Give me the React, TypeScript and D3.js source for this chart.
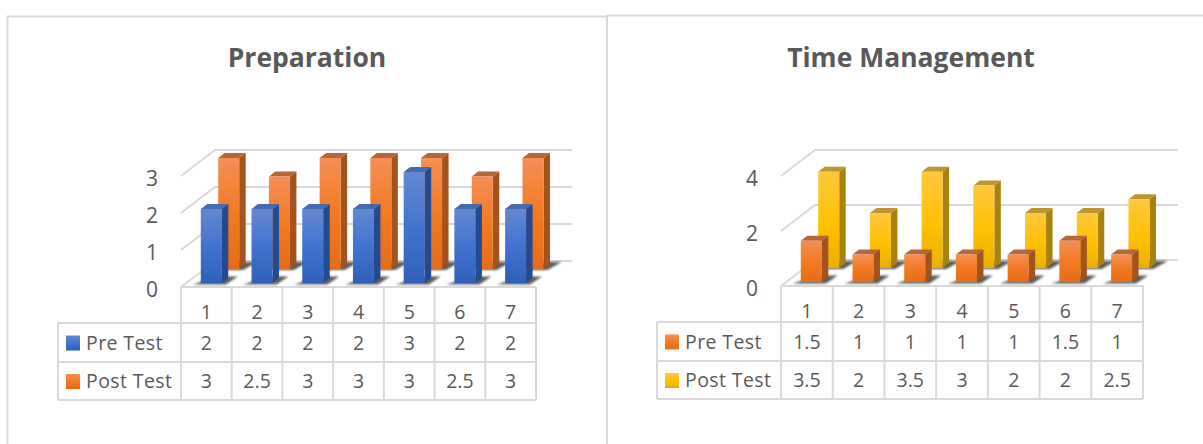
import * as d3 from 'd3';

const categories = ['1', '2', '3', '4', '5', '6', '7'];

const prepPre = [2, 2, 2, 2, 3, 2, 2];
const prepPost = [3, 2.5, 3, 3, 3, 2.5, 3];
const prepTicks = [0, 1, 2, 3];

const timePre = [1.5, 1, 1, 1, 1, 1.5, 1];
const timePost = [3.5, 2, 3.5, 3, 2, 2, 2.5];
const timeTicks = [0, 2, 4];

const seriesNames = ['Pre Test', 'Post Test'];

const blue = { top: '#466ab0', light: '#6488d2', mid: '#3f71cf', dark: '#2f60b8', side: '#244a8f' };
const orange = { top: '#b9653a', light: '#f58f54', mid: '#f2781f', dark: '#e66c1a', side: '#a3531c' };
const yellow = { top: '#bf9530', light: '#ffc83f', mid: '#ffc000', dark: '#e8af00', side: '#a8820f' };

const font = "'Open Sans', sans-serif";
const grid = '#d9d9d9';
const textColor = '#595959';

type Colors = typeof blue;

function Bar({ x, w, base, h, dx, dy, c, id }: { x: number; w: number; base: number; h: number; dx: number; dy: number; c: Colors; id: string }) {
  const top = base - h;
  return (
    <g>
      <path d={`M${x + w},${base} l${dx},${-dy} V${top - dy} L${x + w},${top} Z`} fill={c.side} />
      <path d={`M${x},${top} l${dx},${-dy} h${w} l${-dx},${dy} Z`} fill={c.top} />
      <rect x={x} y={top} width={w} height={h} fill={`url(#${id})`} />
    </g>
  );
}

function Chart(props: {
  idp: string; title: string; titleX: number; pre: number[]; post: number[]; ticks: number[]; max: number;
  tableX: number; tableRight: number; legendX: number; floorY: number; unitFront: number; wallRight: number;
  rowYs: number[]; preC: Colors; postC: Colors;
}) {
  const { idp, title, titleX, pre, post, ticks, max, tableX, tableRight, legendX, floorY, wallRight, rowYs, preC, postC } = props;
  const dx = 34, dy = 26;
  const x = d3.scaleBand<string>().domain(categories).range([tableX, tableRight]);
  const yFront = d3.scaleLinear().domain([0, max]).range([floorY - 3, floorY - 3 - props.unitFront * max]);
  const yWall = d3.scaleLinear().domain([0, max]).range([floorY - dy, floorY - dy - props.unitFront * max]);
  const bw = 21;
  const frontOff = 19.8;
  const backOff = 37.2;
  const frontBase = floorY - 4;
  const backBase = floorY - 18;
  const grad = (id: string, c: Colors) => (
    <linearGradient id={id} x1="0" y1="0" x2="0" y2="1">
      <stop offset="0" stopColor={c.light} />
      <stop offset="0.55" stopColor={c.mid} />
      <stop offset="1" stopColor={c.dark} />
    </linearGradient>
  );
  const rows = [
    { name: seriesNames[0], vals: pre, c: preC },
    { name: seriesNames[1], vals: post, c: postC },
  ];
  return (
    <g fontFamily={font} fill={textColor}>
      <defs>
        {grad(`${idp}pre`, preC)}
        {grad(`${idp}post`, postC)}
        <filter id={`${idp}blur`} x="-30%" y="-100%" width="160%" height="300%">
          <feGaussianBlur stdDeviation="1.1" />
        </filter>
      </defs>
      <text x={titleX} y={67} textAnchor="middle" fontSize={26.5} fontWeight={700}>{title}</text>

      {/* wall and side grid */}
      {ticks.map(t => (
        <path key={t} d={`M${tableX},${yWall(t) + dy} l${dx},${-dy} H${wallRight}`} fill="none" stroke={grid} strokeWidth={2} />
      ))}
      {/* floor front edge */}
      <path d={`M${tableX},${floorY} H${tableRight}`} fill="none" stroke={grid} strokeWidth={2} />

      {/* back series with shadows */}
      {post.map((v, i) => {
        const bx = x(categories[i])! + backOff;
        return (
          <g key={i}>
            <path d={`M${bx + 2},${backBase + 1} h${bw + 2} l14,-8 h-${bw - 4} Z`} fill="#404040" opacity={0.85} filter={`url(#${idp}blur)`} />
            <Bar x={bx} w={bw} base={backBase} h={yFront(0) - yFront(v)} dx={6.5} dy={5} c={postC} id={`${idp}post`} />
          </g>
        );
      })}
      {pre.map((v, i) => {
        const bx = x(categories[i])! + frontOff;
        return (
          <g key={i}>
            <path d={`M${bx - 8},${frontBase + 1.5} h${bw + 12} l12,-8 h-${bw} Z`} fill="#404040" opacity={0.85} filter={`url(#${idp}blur)`} />
            <Bar x={bx} w={bw} base={frontBase} h={yFront(0) - yFront(v)} dx={6.5} dy={5} c={preC} id={`${idp}pre`} />
          </g>
        );
      })}

      {/* value axis labels */}
      {ticks.map(t => (
        <text key={t} x={tableX - 29} y={yWall(t) + dy + 3} dy="0.35em" textAnchor="middle" fontSize={21}>{t}</text>
      ))}

      {/* data table */}
      <g fill="none" stroke={grid} strokeWidth={2}>
        {[...categories.map(c => x(c)!), tableRight].map((cx, i) => (
          <line key={i} x1={cx} x2={cx} y1={floorY} y2={rowYs[2]} />
        ))}
        <line x1={legendX} x2={legendX} y1={rowYs[0]} y2={rowYs[2]} />
        {rowYs.map((ry, i) => (
          <line key={i} x1={legendX} x2={tableRight} y1={ry} y2={ry} />
        ))}
      </g>
      {categories.map(c => (
        <text key={c} x={x(c)! + x.bandwidth() / 2} y={floorY + 25.5} dy="0.35em" textAnchor="middle" fontSize={19.5}>{c}</text>
      ))}
      {rows.map((r, ri) => {
        const cy = (rowYs[ri] + rowYs[ri + 1]) / 2;
        return (
          <g key={r.name}>
            <rect x={legendX + 8} y={cy - 7} width={14} height={15} fill={`url(#${idp}${ri === 0 ? 'pre' : 'post'})`} />
            <text x={legendX + 28} y={cy + 0.5} dy="0.35em" fontSize={19.5} letterSpacing={0.4}>{r.name}</text>
            {r.vals.map((v, i) => (
              <text key={i} x={x(categories[i])! + x.bandwidth() / 2} y={cy + 0.5} dy="0.35em" textAnchor="middle" fontSize={19.5}>{v}</text>
            ))}
          </g>
        );
      })}
    </g>
  );
}

export default function App() {
  return (
    <svg width={1203} height={444} style={{ position: 'absolute', left: 0, top: 0, background: '#fff' }}>
      <path d="M7.5,444 V16.5 H607" fill="none" stroke={grid} strokeWidth={2} />
      <path d="M607,444 V15.5 H1203" fill="none" stroke={grid} strokeWidth={2} />
      <Chart idp="a" title="Preparation" titleX={307} pre={prepPre} post={prepPost} ticks={prepTicks} max={3}
        tableX={181} tableRight={536} legendX={58} floorY={287} unitFront={37} wallRight={572}
        rowYs={[323, 362, 400]} preC={blue} postC={orange} />
      <Chart idp="b" title="Time Management" titleX={911} pre={timePre} post={timePost} ticks={timeTicks} max={4}
        tableX={781} tableRight={1143} legendX={657} floorY={286} unitFront={27.5} wallRight={1178}
        rowYs={[322, 361, 399]} preC={orange} postC={yellow} />
    </svg>
  );
}
